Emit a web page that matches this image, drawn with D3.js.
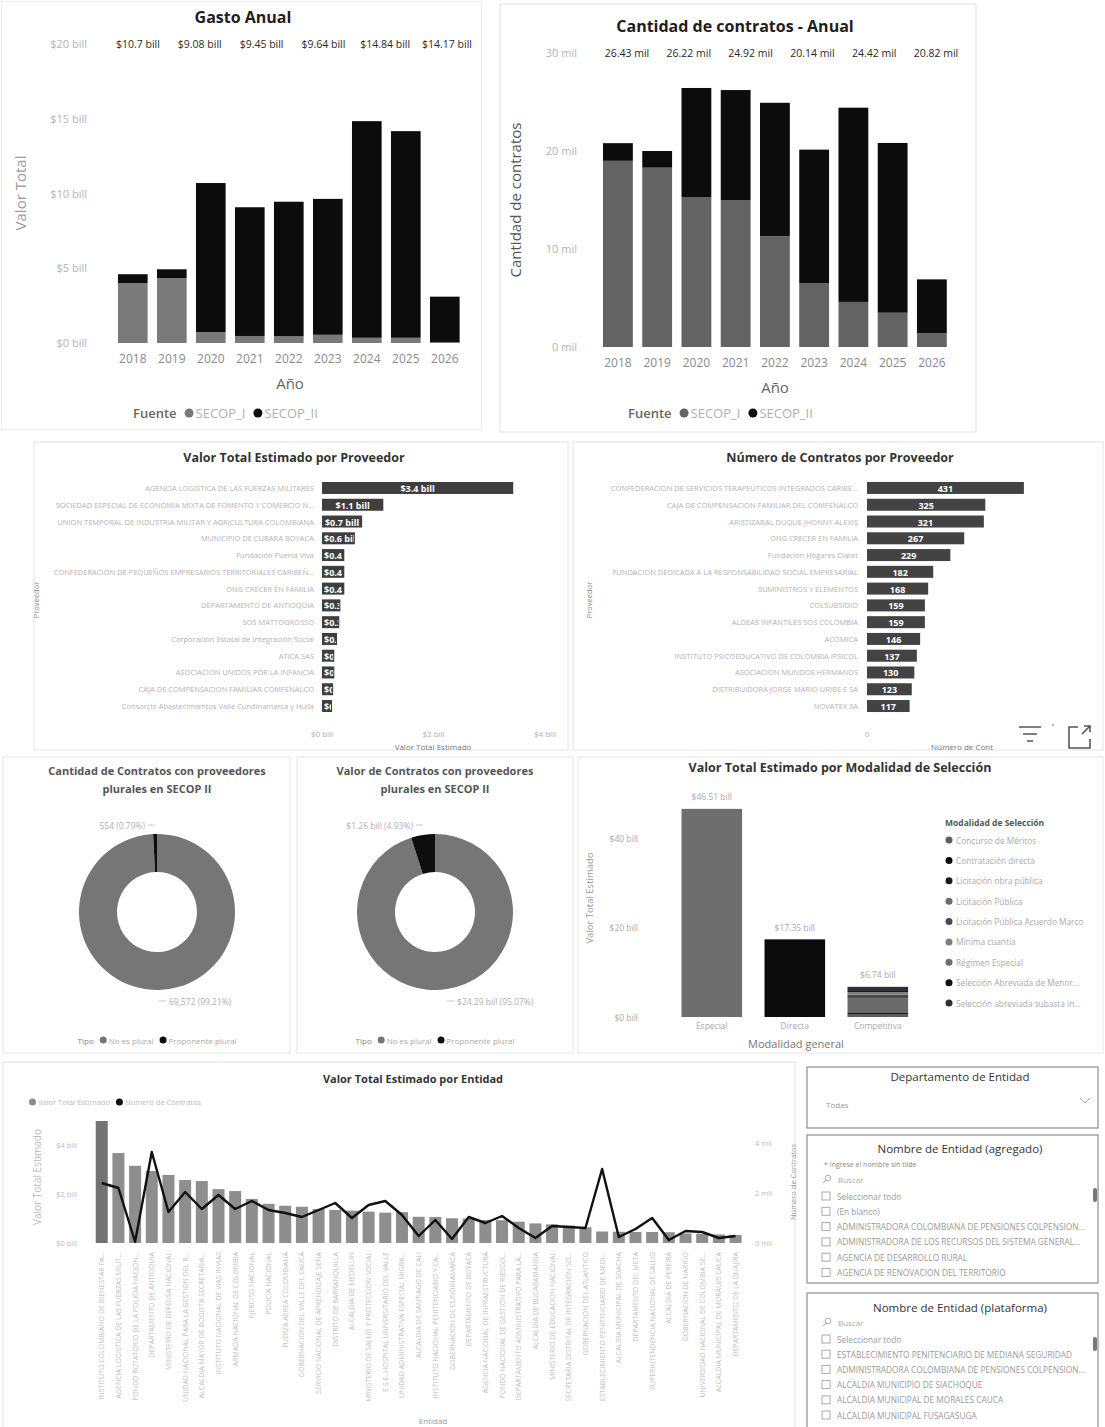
<!DOCTYPE html>
<html><head><meta charset="utf-8">
<script src="https://cdn.jsdelivr.net/npm/d3@7"></script>
<style>
body{margin:0;background:#fff;}
svg text{font-family:"Open Sans","Noto Sans",sans-serif;}
</style></head><body>
<svg id="c" width="1105" height="1427" xmlns="http://www.w3.org/2000/svg"></svg>
<script>
// ---------------- DATA ----------------
const years = ["2018","2019","2020","2021","2022","2023","2024","2025","2026"];
const fuentes = ["SECOP_I","SECOP_II"];
const gastoSecopI  = [4.00,4.33,0.73,0.47,0.45,0.55,0.35,0.35,0.05];
const gastoSecopII = [0.60,0.60,9.97,8.61,9.00,9.09,14.49,13.82,3.05];
const contratosSecopI  = [19.0,18.3,15.3,15.0,11.3,6.5,4.6,3.5,1.4];
const contratosSecopII = [1.8,1.7,11.13,11.22,13.62,13.64,19.82,17.32,5.5];
const labeledYears = ["2020","2021","2022","2023","2024","2025"];
const gastoTicks = [0,5,10,15,20];
const contratosTicks = [0,10,20,30];

const proveedoresValor = [
 "AGENCIA LOGISTICA DE LAS FUERZAS MILITARES",
 "SOCIEDAD ESPECIAL DE ECONOMIA MIXTA DE FOMENTO Y COMERCIO NACIONAL",
 "UNION TEMPORAL DE INDUSTRIA MILITAR Y AGRICULTURA COLOMBIANA",
 "MUNICIPIO DE CUBARA BOYACA",
 "Fundación Puerta Viva",
 "CONFEDERACION DE PEQUEÑOS EMPRESARIOS TERRITORIALES CARIBEÑOS DE COLOMBIA",
 "ONG CRECER EN FAMILIA",
 "DEPARTAMENTO DE ANTIOQUIA",
 "SOS MATTOGROSSO",
 "Corporación Estatal de Integración Social",
 "ATICA SAS",
 "ASOCIACION UNIDOS POR LA INFANCIA",
 "CAJA DE COMPENSACION FAMILIAR COMFENALCO",
 "Consorcio Abastecimientos Valle Cundinamarca y Huila"
];
const valorProveedor = [3.43,1.10,0.72,0.59,0.40,0.40,0.40,0.33,0.31,0.27,0.22,0.22,0.20,0.18];
const valorProveedorTicks = [0,2,4];

const proveedoresContratos = [
 "CONFEDERACION DE SERVICIOS TERAPEUTICOS INTEGRADOS CARIBEÑA DE COLOMBIA",
 "CAJA DE COMPENSACION FAMILIAR DEL COMFENALCO",
 "ARISTIZABAL DUQUE JHONNY ALEXIS",
 "ONG CRECER EN FAMILIA",
 "Fundación Hogares Claret",
 "FUNDACION DEDICADA A LA RESPONSABILIDAD SOCIAL EMPRESARIAL",
 "SUMINISTROS Y ELEMENTOS",
 "COLSUBSIDIO",
 "ALDEAS INFANTILES SOS COLOMBIA",
 "ACOMICA",
 "INSTITUTO PSICOEDUCATIVO DE COLOMBIA IPSICOL",
 "ASOCIACION MUNDOS HERMANOS",
 "DISTRIBUIDORA JORGE MARIO URIBE E SA",
 "NOVATEX SA"
];
const contratosProveedor = [431,325,321,267,229,182,168,159,159,146,137,130,123,117];

const tipos = ["No es plural","Proponente plural"];
const cantidadPorTipo = [69572,554];
const valorPorTipo = [24.29,1.26];

const modalidadGeneral = ["Especial","Directa","Competitiva"];
const modalidades = ["Concurso de Méritos","Contratación directa","Licitación obra pública","Licitación Pública","Licitación Pública Acuerdo Marco","Mínima cuantía","Régimen Especial","Selección Abreviada de Menor Cuantía","Selección abreviada subasta inversa"];
const valoresEspecial    = [0,0,0,0,0,0,46.51,0,0];
const valoresDirecta     = [0,17.35,0,0,0,0,0,0,0];
const valoresCompetitiva = [0.55,0,0.35,3.20,0.90,0.60,0,0.40,0.74];
const modalidadTicks = [0,20,40];

const entidades = [
 "INSTITUTO COLOMBIANO DE BIENESTAR FAMILIAR","AGENCIA LOGISTICA DE LAS FUERZAS MILITARES","FONDO ROTATORIO DE LA POLICIA NACIONAL DE COLOMBIA",
 "DEPARTAMENTO DE ANTIOQUIA","MINISTERIO DE DEFENSA NACIONAL","UNIDAD NACIONAL PARA LA GESTION DEL RIESGO DE DESASTRES",
 "ALCALDIA MAYOR DE BOGOTA SECRETARIA DE EDUCACION DEL DISTRITO","INSTITUTO NACIONAL DE VIAS INVIAS","ARMADA NACIONAL DE COLOMBIA",
 "EJERCITO NACIONAL","POLICIA NACIONAL","FUERZA AEREA COLOMBIANA","GOBERNACION DEL VALLE DEL CAUCA",
 "SERVICIO NACIONAL DE APRENDIZAJE SENA","DISTRITO DE BARRANQUILLA","ALCALDIA DE MEDELLIN",
 "MINISTERIO DE SALUD Y PROTECCION SOCIAL","E.S.E. HOSPITAL UNIVERSITARIO DEL VALLE","UNIDAD ADMINISTRATIVA ESPECIAL MIGRACION",
 "ALCALDIA DE SANTIAGO DE CALI","INSTITUTO NACIONAL PENITENCIARIO Y CARCELARIO","GOBERNACION DE CUNDINAMARCA",
 "DEPARTAMENTO DE BOYACA","AGENCIA NACIONAL DE INFRAESTRUCTURA","FONDO NACIONAL DE GESTION DE RIESGO DE DESASTRES",
 "DEPARTAMENTO ADMINISTRATIVO PARA LA PROSPERIDAD SOCIAL","ALCALDIA DE BUCARAMANGA","MINISTERIO DE EDUCACION NACIONAL",
 "SECRETARIA DISTRITAL DE INTEGRACION SOCIAL","GOBERNACION DEL ATLANTICO","ESTABLECIMIENTO PENITENCIARIO DE MEDIANA SEGURIDAD",
 "ALCALDIA MUNICIPAL DE SOACHA","DEPARTAMENTO DEL META","SUPERINTENDENCIA NACIONAL DE SALUD","ALCALDIA DE PEREIRA",
 "GOBERNACION DE NARIÑO","UNIVERSIDAD NACIONAL DE COLOMBIA SEDE BOGOTA","ALCALDIA MUNICIPAL DE MORALES CAUCA","DEPARTAMENTO DE LA GUAJIRA"
];
const valorEntidad = [4.98,3.67,3.15,2.94,2.78,2.57,2.53,2.20,2.12,1.80,1.60,1.52,1.48,1.39,1.35,1.32,1.28,1.24,
 1.26,1.07,1.06,1.01,1.00,0.94,0.93,0.87,0.80,0.76,0.71,0.64,0.47,0.46,0.45,0.45,0.44,0.39,0.38,0.35,0.33];
const contratosEntidad = [2.40,2.20,0.05,3.64,1.24,2.04,1.36,1.92,1.36,1.68,1.32,1.20,1.04,1.32,1.60,1.00,1.52,1.68,
 1.12,0.28,0.92,0.16,1.04,0.80,1.08,0.60,0.20,0.68,0.64,0.60,2.96,0.24,0.56,1.00,0.12,0.48,0.44,0.20,0.28];
const entidadValorTicks = [0,2,4];
const entidadContratosTicks = [0,2,4];

const slicerAgregado = ["Seleccionar todo","(En blanco)","ADMINISTRADORA COLOMBIANA DE PENSIONES COLPENSIONES","ADMINISTRADORA DE LOS RECURSOS DEL SISTEMA GENERAL DE SEGURIDAD","AGENCIA DE DESARROLLO RURAL","AGENCIA DE RENOVACION DEL TERRITORIO"];
const slicerPlataforma = ["Seleccionar todo","ESTABLECIMIENTO PENITENCIARIO DE MEDIANA SEGURIDAD","ADMINISTRADORA COLOMBIANA DE PENSIONES COLPENSIONES","ALCALDIA MUNICIPIO DE SIACHOQUE","ALCALDIA MUNICIPAL DE MORALES CAUCA","ALCALDIA MUNICIPAL FUSAGASUGA"];

// ---------------- STYLE ----------------
const fuenteColors = ["#727272","#0c0c0c"];
const tipoColors = ["#767676","#0e0e0e"];
const modalidadColors = ["#5e5e5e","#0b0b0b","#1a1a1a","#6a6a6a","#4a4a4a","#7e7e7e","#6e6e6e","#0d0d0d","#2e2e34"];
const svg = d3.select("#c");

function txt(g,x,y,s,o={}){
  const t=g.append("text").attr("x",x).attr("y",y).text(s)
    .attr("font-size",o.size||10).attr("fill",o.fill||"#999")
    .attr("text-anchor",o.anchor||"start").attr("dominant-baseline","central")
    .attr("font-weight",o.weight||"normal");
  if(o.rotate) t.attr("transform",`rotate(${o.rotate},${x},${y})`);
  return t;
}
function fit(t,maxW){
  const n=t.node(); let s=t.text();
  if(n.getComputedTextLength()<=maxW) return t;
  while(s.length>1 && n.getComputedTextLength()>maxW){ s=s.slice(0,-1); t.text(s.trimEnd()+"..."); }
  return t;
}
function panel(x,y,w,h,stroke,sw){
  svg.append("rect").attr("x",x).attr("y",y).attr("width",w).attr("height",h)
   .attr("fill","none").attr("stroke",stroke||"#e6e6e6").attr("stroke-width",sw||1);
}
function legend(g,cx,y,title,items,colors,o){
  const lg=g.append("g");
  let x=0;
  if(title){ const t=txt(lg,x,y,title,{size:o.size,fill:o.titleFill,weight:o.titleWeight}); x+=t.node().getComputedTextLength()+o.gap; }
  items.forEach((it,i)=>{
    lg.append("circle").attr("cx",x+o.r).attr("cy",y).attr("r",o.r).attr("fill",colors[i]);
    x+=2*o.r+2;
    const t=txt(lg,x,y,it,{size:o.size,fill:o.fill}); x+=t.node().getComputedTextLength()+o.gap;
  });
  const w=x-o.gap;
  lg.attr("transform",`translate(${o.align==="start"?cx:cx-w/2},0)`);
}

// ---------------- PANELS ----------------
panel(1.5,1.5,480,428,"#ececec");
panel(500,4,476,428,"#e2e2e2");
panel(34,442,534,308,"#e4e4e4");
panel(573,442,530,308,"#e4e4e4");
panel(3,757,287,296,"#e4e4e4");
panel(297,757,276,296,"#e4e4e4");
panel(578,757,525,296,"#e4e4e4");
panel(3,1062,792,366,"#e4e4e4");

// ---------------- YEAR CHARTS ----------------
function yearChart(o){
  const g=svg.append("g");
  const x=d3.scaleBand().domain(years).range(o.xRange).paddingInner(0.24).paddingOuter(0.12);
  const y=d3.scaleLinear().domain(o.yDomain).range(o.yRange);
  const rows=years.map((yr,i)=>({year:yr,SECOP_I:o.s1[i],SECOP_II:o.s2[i]}));
  const series=d3.stack().keys(fuentes)(rows);
  g.selectAll("g.ser").data(series).join("g").attr("class","ser").attr("fill",(d,i)=>o.colors[i])
   .selectAll("rect").data(d=>d).join("rect")
   .attr("x",d=>x(d.data.year)).attr("width",x.bandwidth())
   .attr("y",d=>y(d[1])).attr("height",d=>Math.max(0,y(d[0])-y(d[1])));
  const ya=g.append("g").attr("transform",`translate(${o.yAxisX},0)`)
   .call(d3.axisLeft(y).tickValues(o.ticks).tickFormat(o.tickFmt).tickSize(0).tickPadding(0));
  ya.select(".domain").remove();
  ya.selectAll("text").attr("fill","#b4b4b4").attr("font-size",11);
  const xa=g.append("g").attr("transform",`translate(0,${o.yRange[0]})`)
   .call(d3.axisBottom(x).tickSize(0).tickPadding(11));
  xa.select(".domain").remove();
  xa.selectAll("text").attr("fill","#8a8a8a").attr("font-size",12);
  const lx=d3.scalePoint().domain(labeledYears).range(o.labelRange);
  labeledYears.forEach(yr=>{const i=years.indexOf(yr);
    txt(g,lx(yr),y(o.yDomain[1]),o.totalFmt(o.s1[i]+o.s2[i]),{anchor:"middle",size:10.5,fill:"#2a2a2a"});});
  txt(g,o.titleX,o.titleY,o.title,{anchor:"middle",size:16,weight:"bold",fill:"#1e1e1e"});
  txt(g,o.yTitleX,o.yTitleY,o.yTitle,{anchor:"middle",size:15,fill:o.yTitleFill,rotate:-90});
  txt(g,o.xTitleX,o.yRange[0]+40,"Año",{anchor:"middle",size:15,fill:"#666"});
  legend(g,o.legendX,413,"Fuente",fuentes,o.colors,{size:13,fill:"#b0b0b0",titleFill:"#666",titleWeight:"600",gap:8,r:4.5,align:"start"});
}
yearChart({s1:gastoSecopI,s2:gastoSecopII,colors:["#7a7a7a","#0c0c0c"],xRange:[113.3,464.3],yDomain:[0,20],yRange:[343,44],
  yAxisX:87,ticks:gastoTicks,tickFmt:d=>"$"+d+" bill",labelRange:[138,447],
  totalFmt:v=>"$"+d3.format(".2~f")(v)+" bill",title:"Gasto Anual",titleX:243,titleY:17,
  yTitle:"Valor Total",yTitleX:20,yTitleY:193,yTitleFill:"#9a9a9a",xTitleX:290,legendX:133});
yearChart({s1:contratosSecopI,s2:contratosSecopII,colors:["#636363","#0c0c0c"],xRange:[598.3,951.5],yDomain:[0,30],yRange:[347,53],
  yAxisX:577,ticks:contratosTicks,tickFmt:d=>d+" mil",labelRange:[627,936],
  totalFmt:v=>d3.format(".2f")(v)+" mil",title:"Cantidad de contratos - Anual",titleX:735,titleY:26,
  yTitle:"Cantidad de contratos",yTitleX:515,yTitleY:200,yTitleFill:"#555",xTitleX:775,legendX:628});

// ---------------- PROVIDER BARS ----------------
function hbarChart(o){
  const g=svg.append("g");
  const yb=d3.scaleBand().domain(d3.range(o.names.length)).range([477.2,716.8]).padding(0.285);
  const x=d3.scaleLinear().domain(o.domain).range(o.xRange);
  g.selectAll("rect.b").data(o.values).join("rect").attr("class","b")
   .attr("x",x(0)).attr("y",(d,i)=>yb(i)).attr("width",d=>x(d)-x(0)).attr("height",yb.bandwidth()).attr("fill",o.color);
  o.values.forEach((v,i)=>{
    const id=o.id+"c"+i, w=x(v)-x(0);
    g.append("clipPath").attr("id",id).append("rect").attr("x",x(0)+1).attr("y",yb(i)).attr("width",Math.max(0,w-2)).attr("height",yb.bandwidth());
    const t=txt(g,x(0)+w/2,yb(i)+yb.bandwidth()/2+0.5,o.fmt(v),{anchor:"middle",size:9,fill:"#fff",weight:"bold"}).attr("clip-path",`url(#${id})`);
    if(t.node().getComputedTextLength()>w-4){ t.attr("text-anchor","start").attr("x",x(0)+2); }
    fit(txt(g,o.nameX,yb(i)+yb.bandwidth()/2,o.names[i],{anchor:"end",size:7.5,fill:"#b3b3b3"}),o.nameMaxW);
  });
  o.ticks.forEach(tk=>txt(g,x(tk),733,o.tickFmt(tk),{anchor:"middle",size:8,fill:"#b0b0b0"}));
  txt(g,o.titleX,457,o.title,{anchor:"middle",size:12.5,weight:"bold",fill:"#333"});
  txt(g,o.axisTitleX,746,o.axisTitle,{anchor:"middle",size:8,fill:"#777"});
  txt(g,o.provX,600,"Proveedor",{anchor:"middle",size:7.5,fill:"#888",rotate:-90});
  return g;
}
hbarChart({id:"pv",names:proveedoresValor,values:valorProveedor,domain:[0,4],xRange:[322,545],color:"#3e3e3e",
  fmt:v=>"$"+d3.format(".1f")(v)+" bill",nameX:314,nameMaxW:262,ticks:valorProveedorTicks,tickFmt:d=>"$"+d+" bill",
  title:"Valor Total Estimado por Proveedor",titleX:294,axisTitle:"Valor Total Estimado",axisTitleX:433,provX:36});
const g4=hbarChart({id:"pc",names:proveedoresContratos,values:contratosProveedor,domain:[0,500],xRange:[867,1049],color:"#434343",
  fmt:v=>d3.format("d")(v),nameX:858,nameMaxW:248,ticks:[0],tickFmt:d=>String(d),
  title:"Número de Contratos por Proveedor",titleX:840,axisTitle:"Número de Cont",axisTitleX:962,provX:589});
g4.append("path").attr("d","M1019,727 H1041 M1023,734 H1037 M1027,741 H1033").attr("stroke","#555").attr("stroke-width",1.6).attr("fill","none");
g4.append("circle").attr("cx",1053).attr("cy",725).attr("r",1.2).attr("fill","#bbb");
g4.append("path").attr("d","M1078,727 H1069 V748 H1090 V739 M1082,734 L1090,726 M1084,726 H1090 V732").attr("stroke","#555").attr("stroke-width",1.6).attr("fill","none");

// ---------------- DONUTS ----------------
function donut(o){
  const g=svg.append("g");
  const total=d3.sum(o.values);
  const arcs=d3.pie().sort(null).value(d=>d)(o.values);
  const arc=d3.arc().innerRadius(o.rI).outerRadius(o.rO);
  g.selectAll("path.s").data(arcs).join("path").attr("class","s").attr("d",arc)
   .attr("fill",(d,i)=>tipoColors[i]).attr("transform",`translate(${o.cx},${o.cy})`);
  arcs.forEach((a,i)=>{
    const mid=(a.startAngle+a.endAngle)/2;
    const ex=o.cx+Math.sin(mid)*o.rO;
    const lab=o.fmt(o.values[i])+" ("+d3.format(".2%")(o.values[i]/total)+")";
    if(i===1){ const ly=o.cy-o.rO-9;
      g.append("line").attr("x1",ex-7).attr("x2",ex).attr("y1",ly).attr("y2",ly).attr("stroke","#c8c8c8");
      txt(g,ex-10,ly,lab,{anchor:"end",size:8.5,fill:"#b0b0b0"});
    } else { const ly=o.cy+o.rO+11;
      g.append("line").attr("x1",ex).attr("x2",ex+7).attr("y1",ly).attr("y2",ly).attr("stroke","#c8c8c8");
      txt(g,ex+10,ly,lab,{anchor:"start",size:8.5,fill:"#b0b0b0"});
    }
  });
  txt(g,o.cx,770,o.title1,{anchor:"middle",size:11,weight:"bold",fill:"#555"});
  txt(g,o.cx,788,o.title2,{anchor:"middle",size:11,weight:"bold",fill:"#555"});
  legend(g,o.cx,1040,"Tipo",tipos,tipoColors,{size:8,fill:"#aaa",titleFill:"#888",titleWeight:"normal",gap:6,r:3.5});
}
donut({cx:157,cy:912,rO:78,rI:40,values:cantidadPorTipo,fmt:d3.format(","),
  title1:"Cantidad de Contratos con proveedores",title2:"plurales en SECOP II"});
donut({cx:435,cy:912,rO:78,rI:40,values:valorPorTipo,fmt:v=>"$"+d3.format(".2f")(v)+" bill",
  title1:"Valor de Contratos con proveedores",title2:"plurales en SECOP II"});

// ---------------- MODALIDAD ----------------
(function(){
  const g=svg.append("g");
  const x=d3.scaleBand().domain(modalidadGeneral).range([656.6,933]).paddingInner(0.27).paddingOuter(0.3);
  const y=d3.scaleLinear().domain([0,40]).range([1017,838]);
  const cols=[valoresEspecial,valoresDirecta,valoresCompetitiva];
  const rows=modalidadGeneral.map((m,j)=>{const r={general:m}; modalidades.forEach((k,i)=>r[k]=cols[j][i]); return r;});
  const series=d3.stack().keys(modalidades)(rows);
  g.selectAll("g.ser").data(series).join("g").attr("fill",(d,i)=>modalidadColors[i])
   .selectAll("rect").data(d=>d.filter(p=>p[1]-p[0]>0)).join("rect")
   .attr("x",d=>x(d.data.general)).attr("width",x.bandwidth())
   .attr("y",d=>y(d[1])).attr("height",d=>y(d[0])-y(d[1]));
  rows.forEach((r,j)=>{const tot=d3.sum(cols[j]);
    txt(g,x(r.general)+x.bandwidth()/2,y(tot)-12,"$"+d3.format(".2f")(tot)+" bill",{anchor:"middle",size:8.5,fill:"#aaa"});
    txt(g,x(r.general)+x.bandwidth()/2,1025,r.general,{anchor:"middle",size:8.5,fill:"#aaa"});});
  modalidadTicks.forEach(t=>txt(g,638,y(t),"$"+t+" bill",{anchor:"end",size:8.5,fill:"#aaa"}));
  txt(g,589,898,"Valor Total Estimado",{anchor:"middle",size:9.5,fill:"#999",rotate:-90});
  txt(g,796,1043,"Modalidad general",{anchor:"middle",size:11,fill:"#777"});
  txt(g,840,767,"Valor Total Estimado por Modalidad de Selección",{anchor:"middle",size:12.5,weight:"bold",fill:"#333"});
  txt(g,945,822,"Modalidad de Selección",{size:8.5,weight:"bold",fill:"#555"});
  const ly=d3.scalePoint().domain(modalidades).range([840,1003]);
  modalidades.forEach((m,i)=>{
    g.append("circle").attr("cx",949).attr("cy",ly(m)).attr("r",3.5).attr("fill",modalidadColors[i]);
    fit(txt(g,956,ly(m),m,{size:8.3,fill:"#aaa"}),128);
  });
})();

// ---------------- ENTIDAD COMBO ----------------
(function(){
  const g=svg.append("g");
  const x=d3.scaleBand().domain(entidades).range([93.4,743.9]).paddingInner(0.28).paddingOuter(0.14);
  const yL=d3.scaleLinear().domain([0,5]).range([1243,1120.5]);
  const yR=d3.scaleLinear().domain([0,5]).range([1243,1118]);
  g.selectAll("rect").data(entidades).join("rect")
   .attr("x",d=>x(d)).attr("width",x.bandwidth())
   .attr("y",(d,i)=>yL(valorEntidad[i])).attr("height",(d,i)=>yL(0)-yL(valorEntidad[i]))
   .attr("fill",(d,i)=>i===0?"#737373":"#8e8e8e");
  const line=d3.line().x((d,i)=>x(entidades[i])+x.bandwidth()/2).y(d=>yR(d));
  g.append("path").attr("d",line(contratosEntidad)).attr("fill","none").attr("stroke","#111").attr("stroke-width",2.4).attr("stroke-linejoin","round");
  entidadValorTicks.forEach(t=>txt(g,77,yL(t),"$"+t+" bill",{anchor:"end",size:7.5,fill:"#bbb"}));
  entidadContratosTicks.forEach(t=>txt(g,755,yR(t),t+" mil",{size:7.5,fill:"#bbb"}));
  entidades.forEach(e=>fit(txt(g,x(e)+x.bandwidth()/2,1252,e,{anchor:"end",size:7,fill:"#bdbdbd",rotate:-90}),150));
  txt(g,37,1177,"Valor Total Estimado",{anchor:"middle",size:10,fill:"#bbb",rotate:-90});
  txt(g,793,1182,"Número de Contratos",{anchor:"middle",size:7.5,fill:"#999",rotate:-90});
  txt(g,413,1078,"Valor Total Estimado por Entidad",{anchor:"middle",size:11,weight:"bold",fill:"#333"});
  txt(g,433,1420,"Entidad",{anchor:"middle",size:8,fill:"#999"});
  legend(g,29,1102,null,["Valor Total Estimado","Número de Contratos"],["#8c8c8c","#111"],{size:7.5,fill:"#bbb",gap:6,r:3.5,align:"start"});
})();

// ---------------- SLICERS ----------------
(function(){
  const g=svg.append("g");
  const bx=807,bw=291;
  const box=(y,h)=>g.append("rect").attr("x",bx).attr("y",y).attr("width",bw).attr("height",h).attr("fill","#fff").attr("stroke","#8d8d8d").attr("stroke-width",1.2);
  box(1067,61); box(1135,148); box(1293,140);
  txt(g,960,1076,"Departamento de Entidad",{anchor:"middle",size:11.5,fill:"#333"});
  txt(g,826,1104,"Todas",{size:8,fill:"#999"});
  g.append("path").attr("d","M1080,1098 L1085,1103 L1090,1098").attr("stroke","#aaa").attr("fill","none");
  function list(titleY,title,sub,searchY,items,itemY0,step,thumbY){
    txt(g,960,titleY,title,{anchor:"middle",size:11.5,fill:"#333"});
    if(sub) txt(g,824,1164,sub,{size:7,fill:"#888"});
    g.append("circle").attr("cx",828).attr("cy",searchY-1).attr("r",2.8).attr("fill","none").attr("stroke","#aaa");
    g.append("line").attr("x1",826).attr("y1",searchY+1).attr("x2",823).attr("y2",searchY+4).attr("stroke","#aaa");
    txt(g,838,searchY,"Buscar",{size:8,fill:"#aaa"});
    items.forEach((it,i)=>{const yy=itemY0+i*step;
      g.append("rect").attr("x",822).attr("y",yy-4).attr("width",8).attr("height",8).attr("fill","none").attr("stroke","#aaa");
      fit(txt(g,837,yy,it,{size:8.3,fill:"#9a9a9a"}),250);});
    g.append("rect").attr("x",1093).attr("y",thumbY).attr("width",4).attr("height",14).attr("rx",2).attr("fill","#777");
  }
  list(1148,"Nombre de Entidad (agregado)","* Ingrese el nombre sin tilde",1179,slicerAgregado,1196,15.3,1188);
  list(1307,"Nombre de Entidad (plataforma)",null,1322,slicerPlataforma,1339,15.2,1337);
})();
</script>
</body></html>
